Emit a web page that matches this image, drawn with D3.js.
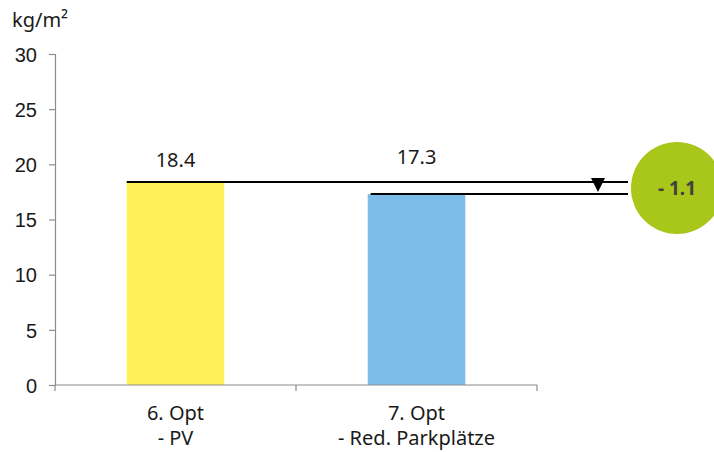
<!DOCTYPE html>
<html>
<head>
<meta charset="utf-8">
<script src="https://cdn.jsdelivr.net/npm/d3@7/dist/d3.min.js"></script>
<style>
  html, body { margin: 0; padding: 0; background: #fff; }
  svg { display: block; font-family: "Noto Sans", "Open Sans", sans-serif; }
</style>
</head>
<body>
<svg id="chart" width="714" height="452"></svg>
<script>
// Emissions per square metre for two optimisation variants
const categories = ["6. Opt\n- PV", "7. Opt\n- Red. Parkplätze"];
const values = [18.4, 17.3];
const barColors = ["#FFF05A", "#7BBDE8"];
const yTicks = [0, 5, 10, 15, 20, 25, 30];
const unitLabel = "kg/m²";

const svg = d3.select("#chart");
const margin = { left: 55, right: 177, top: 54, bottom: 67 };
const W = 714, H = 452;
const fontSize = "20px";

const x = d3.scaleBand()
  .domain(categories)
  .range([margin.left, W - margin.right])
  .paddingInner(0.595)
  .paddingOuter(0.2975);

const y = d3.scaleLinear()
  .domain([0, 30])
  .range([H - margin.bottom, margin.top]);

const axisColor = "#8c8c8c";

// Bars
svg.append("g").selectAll("rect")
  .data(values)
  .join("rect")
  .attr("x", (d, i) => x(categories[i]))
  .attr("y", d => y(d))
  .attr("width", x.bandwidth())
  .attr("height", d => y(0) - y(d))
  .attr("fill", (d, i) => barColors[i]);

// Y axis
const yAxis = svg.append("g")
  .attr("transform", `translate(${margin.left},0)`)
  .call(d3.axisLeft(y).tickValues(yTicks).tickSize(6).tickPadding(12));
yAxis.select(".domain").attr("stroke", axisColor).attr("stroke-width", 1.2);
yAxis.selectAll(".tick line").attr("stroke", axisColor).attr("stroke-width", 1.2);
yAxis.selectAll(".tick text")
  .attr("fill", "#1a1a1a")
  .attr("dy", "0.36em")
  .style("font-size", fontSize);

// X axis: baseline with ticks at the band boundaries
const xAxisG = svg.append("g").attr("transform", `translate(0,${y(0)})`);
xAxisG.append("line")
  .attr("x1", x.range()[0]).attr("x2", x.range()[1])
  .attr("y1", 0).attr("y2", 0)
  .attr("stroke", axisColor).attr("stroke-width", 1.2);
const edges = [x.range()[0]];
categories.forEach((c, i) => edges.push(x.range()[0] + (i + 1) * x.step()));
xAxisG.selectAll("line.tick")
  .data(edges)
  .join("line")
  .attr("class", "tick")
  .attr("x1", d => d).attr("x2", d => d)
  .attr("y1", 0).attr("y2", 6)
  .attr("stroke", axisColor).attr("stroke-width", 1.2);

// Category labels (two lines)
const catText = svg.append("g").selectAll("text")
  .data(categories)
  .join("text")
  .attr("x", d => x(d) + x.bandwidth() / 2)
  .attr("y", y(0) + 35)
  .attr("text-anchor", "middle")
  .attr("fill", "#1a1a1a")
  .style("font-size", fontSize);
catText.each(function (d) {
  const lines = d.split("\n");
  d3.select(this).selectAll("tspan")
    .data(lines)
    .join("tspan")
    .attr("x", x(d) + x.bandwidth() / 2)
    .attr("dy", (l, j) => j === 0 ? 0 : 25)
    .text(l => l);
});

// Value labels
svg.append("g").selectAll("text")
  .data(values)
  .join("text")
  .attr("x", (d, i) => x(categories[i]) + x.bandwidth() / 2)
  .attr("y", (d, i) => y(d3.max(values)) - 15 - i * 3)
  .attr("text-anchor", "middle")
  .attr("fill", "#1a1a1a")
  .style("font-size", fontSize)
  .text(d => d.toFixed(1));

// Reference lines at each bar's height, running to the difference badge
const badgeR = 46;
const badgeCx = 677;
const badgeCy = (y(values[0]) + y(values[1])) / 2;
svg.append("g").selectAll("line")
  .data(values)
  .join("line")
  .attr("x1", (d, i) => x(categories[i]) + (i === 0 ? 0 : 3))
  .attr("x2", badgeCx - badgeR - 3)
  .attr("y1", d => y(d))
  .attr("y2", d => y(d))
  .attr("stroke", "#000")
  .attr("stroke-width", 2);

// Downward arrow marking the reduction
const triX = 598, triW = 14;
const triTop = y(values[0]) - 4, triBot = y(values[1]) - 2;
svg.append("path")
  .attr("d", `M${triX - triW / 2},${triTop} L${triX + triW / 2},${triTop} L${triX},${triBot} Z`)
  .attr("fill", "#000");

// Difference badge
const diff = values[1] - values[0];
svg.append("circle")
  .attr("cx", badgeCx).attr("cy", badgeCy).attr("r", badgeR)
  .attr("fill", "#A9C61A");
svg.append("text")
  .attr("x", badgeCx).attr("y", badgeCy + 7)
  .attr("text-anchor", "middle")
  .attr("fill", "#404040")
  .style("font-size", "19px")
  .style("font-weight", "bold")
  .text("- " + Math.abs(diff).toFixed(1));

// Unit label
svg.append("text")
  .attr("x", 12).attr("y", 27)
  .attr("fill", "#1a1a1a")
  .style("font-size", fontSize)
  .text(unitLabel);
</script>
</body>
</html>
